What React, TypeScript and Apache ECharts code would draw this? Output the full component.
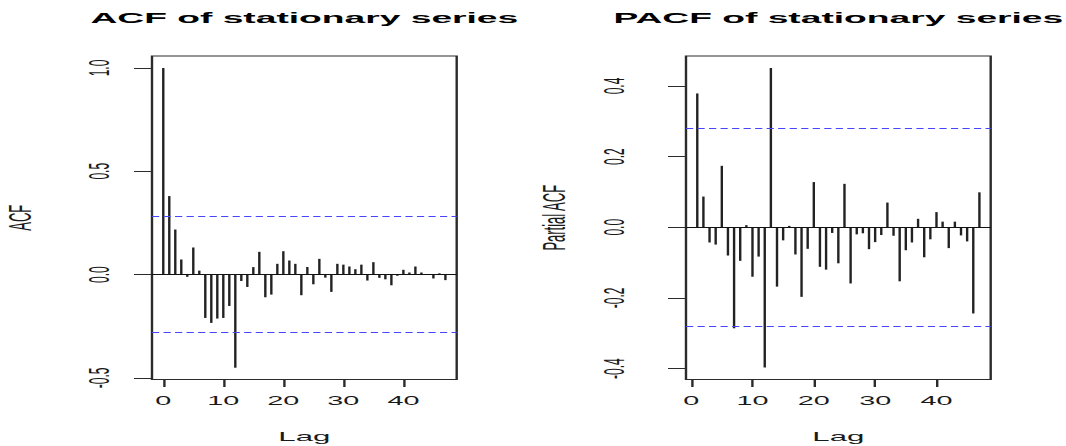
import React, { useEffect, useRef } from "react";
import * as echarts from "echarts";

// ---------- data ----------
const acfLags = [
  0, 1, 2, 3, 4, 5, 6, 7, 8, 9, 10, 11, 12, 13, 14, 15, 16, 17, 18, 19, 20, 21, 22, 23,
  24, 25, 26, 27, 28, 29, 30, 31, 32, 33, 34, 35, 36, 37, 38, 39, 40, 41, 42, 43, 44, 45, 46, 47,
];
const acfValues = [
  1.0, 0.38, 0.218, 0.073, -0.011, 0.131, 0.019, -0.21, -0.234, -0.213, -0.21, -0.152,
  -0.451, -0.031, -0.06, 0.036, 0.11, -0.11, -0.097, 0.052, 0.113, 0.068, 0.052, -0.1,
  0.036, -0.047, 0.076, -0.015, -0.084, 0.052, 0.048, 0.039, 0.026, 0.048, -0.029, 0.06,
  -0.016, -0.023, -0.052, -0.006, 0.023, 0.01, 0.039, 0.01, -0.002, -0.019, 0.006, -0.027,
];
const pacfLags = [
  1, 2, 3, 4, 5, 6, 7, 8, 9, 10, 11, 12, 13, 14, 15, 16, 17, 18, 19, 20, 21, 22, 23,
  24, 25, 26, 27, 28, 29, 30, 31, 32, 33, 34, 35, 36, 37, 38, 39, 40, 41, 42, 43, 44, 45, 46, 47,
];
const pacfValues = [
  0.379, 0.087, -0.043, -0.049, 0.174, -0.08, -0.286, -0.095, 0.006, -0.14, -0.083, -0.397,
  0.451, -0.168, -0.037, 0.004, -0.077, -0.197, -0.061, 0.128, -0.112, -0.12, -0.016, -0.102,
  0.123, -0.159, -0.02, -0.017, -0.062, -0.042, -0.022, 0.07, -0.024, -0.153, -0.065, -0.043,
  0.024, -0.085, -0.034, 0.043, 0.016, -0.059, 0.016, -0.023, -0.04, -0.244, 0.099,
];
const xTicks = [0, 10, 20, 30, 40];
const acfYTicks = [-0.5, 0, 0.5, 1.0];
const pacfYTicks = [-0.4, -0.2, 0, 0.2, 0.4];
const ciBound = 0.283;
const titles = ["ACF of stationary series", "PACF of stationary series"];
const yNames = ["ACF", "Partial ACF"];
const xName = "Lag";

// ---------- layout (native coordinates, stretched horizontally) ----------
const SX = 2.4;
const W = 1066 / SX;
const H = 446;
const FONT = '"Liberation Sans", Arial, sans-serif';

export default function App() {
  const ref = useRef<HTMLDivElement>(null);

  useEffect(() => {
    if (!ref.current) return;
    const chart = echarts.init(ref.current, null, { renderer: "svg" });

    const grids = [
      { left: 63.33, width: 126.96 },
      { left: 285.83, width: 126.96 },
    ];
    const xRanges = [
      [-1.88, 48.88],
      [-0.84, 48.84],
    ];
    const yRanges = [
      [-0.508, 1.058],
      [-0.431, 0.485],
    ];
    const yTicks = [acfYTicks, pacfYTicks];
    const yMargins = [16, 24];

    const markLine = {
      symbol: "none",
      silent: true,
      animation: false,
      label: { show: false },
      emphasis: { disabled: true },
      data: [
        { yAxis: 0, lineStyle: { color: "#111", width: 1, type: "solid" } },
        { yAxis: ciBound, lineStyle: { color: "#4646ff", width: 1, type: [3, 1.8] } },
        { yAxis: -ciBound, lineStyle: { color: "#4646ff", width: 1, type: [3, 1.8] } },
      ],
    };

    chart.setOption({
      animation: false,
      backgroundColor: "#fff",
      textStyle: { fontFamily: FONT },
      grid: grids.map((g) => ({
        left: g.left,
        width: g.width,
        top: 56,
        height: 323.5,
        show: true,
        borderColor: "#2b2b2b",
        borderWidth: 1,
        backgroundColor: "transparent",
        containLabel: false,
        outerBoundsMode: "none",
      })),
      xAxis: grids.map((_, i) => ({
        gridIndex: i,
        type: "value",
        min: xRanges[i][0],
        max: xRanges[i][1],
        axisLine: { show: false, onZero: false },
        splitLine: { show: false },
        axisTick: {
          show: true,
          customValues: xTicks,
          length: 7.5,
          lineStyle: { color: "#2b2b2b", width: 1 },
        },
        axisLabel: {
          customValues: xTicks,
          margin: 15,
          fontSize: 12,
          color: "#1a1a1a",
          fontFamily: FONT,
        },
        name: xName,
        nameLocation: "middle",
        nameGap: 50,
        nameTextStyle: { fontSize: 13, color: "#1a1a1a", fontFamily: FONT },
      })),
      yAxis: grids.map((_, i) => ({
        gridIndex: i,
        type: "value",
        min: yRanges[i][0],
        max: yRanges[i][1],
        axisLine: { show: false, onZero: false },
        splitLine: { show: false },
        axisTick: {
          show: true,
          customValues: yTicks[i],
          length: 7.5,
          lineStyle: { color: "#2b2b2b", width: 1 },
        },
        axisLabel: {
          customValues: yTicks[i],
          rotate: 90,
          margin: yMargins[i],
          fontSize: 12,
          color: "#1a1a1a",
          fontFamily: FONT,
          formatter: (v: number) => v.toFixed(1),
        },
        name: yNames[i],
        nameLocation: "middle",
        nameGap: 48.5,
        nameRotate: 90,
        nameTextStyle: { fontSize: 13, color: "#1a1a1a", fontFamily: FONT },
      })),
      graphic: titles.map((t, i) => ({
        type: "text",
        x: grids[i].left + grids[i].width / 2,
        y: 18,
        style: {
          text: t,
          font: `bold 15.5px ${FONT}`,
          fill: "#000",
          align: "center",
          verticalAlign: "middle",
          textAlign: "center",
          textVerticalAlign: "middle",
        },
      })),
      series: [
        {
          type: "bar",
          xAxisIndex: 0,
          yAxisIndex: 0,
          data: acfLags.map((l, k) => [l, acfValues[k]]),
          barWidth: 0.9,
          itemStyle: { color: "#222" },
          emphasis: { disabled: true },
          markLine,
        },
        {
          type: "bar",
          xAxisIndex: 1,
          yAxisIndex: 1,
          data: pacfLags.map((l, k) => [l, pacfValues[k]]),
          barWidth: 0.9,
          itemStyle: { color: "#222" },
          emphasis: { disabled: true },
          markLine,
        },
      ],
    });

    return () => chart.dispose();
  }, []);

  return (
    <div
      style={{
        position: "fixed",
        left: 0,
        top: 0,
        width: 1066,
        height: H,
        overflow: "hidden",
        background: "#fff",
      }}
    >
      <div
        ref={ref}
        style={{
          width: W,
          height: H,
          transform: `scaleX(${SX})`,
          transformOrigin: "0 0",
        }}
      />
    </div>
  );
}
